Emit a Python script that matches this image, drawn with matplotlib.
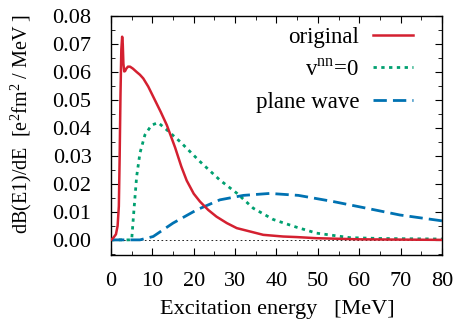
import matplotlib
matplotlib.use("Agg")
import matplotlib.pyplot as plt
from matplotlib.ticker import MultipleLocator, FormatStrFormatter

plt.rcParams['font.family'] = ['Liberation Serif', 'DejaVu Serif']
plt.rcParams['mathtext.fontset'] = 'custom'
plt.rcParams['mathtext.rm'] = 'Liberation Serif'

# original
e_orig = [0.0, 0.6, 1.2, 1.6, 1.9, 2.1, 2.3, 2.5, 2.7, 2.85, 3.0, 3.2, 3.4, 3.7, 4.1, 4.6, 5.3, 6.2,
          7.0, 7.8, 9.0, 10.6, 12.0, 13.5, 15.5, 17.0, 18.3, 20.0, 21.5, 23.5, 25.5, 28.0, 30.4,
          33.6, 36.8, 41.6, 44.9, 49.7, 60.0, 70.0, 80.0]
v_orig = [0.0, 0.0008, 0.002, 0.005, 0.012, 0.03, 0.052, 0.068, 0.0726, 0.070, 0.063, 0.0602,
          0.0603, 0.0612, 0.0619, 0.0619, 0.0612, 0.060, 0.059, 0.0577, 0.0548, 0.050, 0.0458,
          0.0410, 0.0330, 0.0262, 0.0212, 0.0165, 0.0137, 0.0107, 0.0083, 0.006, 0.0042, 0.003,
          0.0018, 0.0012, 0.001, 0.0006, 0.0002, 0.0001, 0.0]

# v^nn = 0
e_vnn = [0.0, 5.0, 5.55, 6.2, 7.0, 8.2, 9.8, 11.4, 13.5, 16.7, 21.5, 26.3, 30.4, 34.4, 39.2,
         40.8, 44.9, 49.7, 57.7, 65.0, 72.0, 80.0]
v_vnn = [0.0, 0.0, 0.0107, 0.0226, 0.031, 0.0375, 0.041, 0.0419, 0.0393, 0.0351, 0.028, 0.0214,
         0.0167, 0.0113, 0.0073, 0.0065, 0.0045, 0.0024, 0.0008, 0.0005, 0.0004, 0.0003]

# plane wave
e_pw = [0.0, 7.0, 10.2, 15.0, 20.7, 26.3, 32.0, 38.4, 45.3, 53.7, 61.8, 69.8, 80.0]
v_pw = [0.0, 0.0, 0.0012, 0.006, 0.0107, 0.0143, 0.0159, 0.0166, 0.0159, 0.0137, 0.0113,
        0.0089, 0.0068]

fig = plt.figure(figsize=(4.63, 3.24), dpi=100)
ax = fig.add_axes([0.2397, 0.213, 0.7149, 0.7376])

ax.axhline(0.0, color='black', lw=0.6, ls=(0, (2, 3)), zorder=1)
ax.plot(e_orig, v_orig, color='#d42030', lw=1.8, label='original', zorder=3)
ax.plot(e_vnn, v_vnn, color='#00a070', lw=2.0, ls=(0, (1.2, 1.6)), label=r'v$^{\rm nn}$=0', zorder=2)
ax.plot(e_pw, v_pw, color='#0072b2', lw=2.0, ls=(0, (4.8, 2.2)), label='plane wave', zorder=2)

ax.set_xlim(0, 80)
ax.set_ylim(-0.0054, 0.08)
ax.xaxis.set_major_locator(MultipleLocator(10))
ax.xaxis.set_minor_locator(MultipleLocator(5))
ax.yaxis.set_major_locator(MultipleLocator(0.01))
ax.yaxis.set_minor_locator(MultipleLocator(0.005))
ax.yaxis.set_major_formatter(FormatStrFormatter('%.2f'))
ax.tick_params(which='both', direction='in', top=True, right=True, labelsize=16)
ax.tick_params(axis='y', pad=14)
ax.tick_params(axis='x', pad=12)
ax.tick_params(which='major', length=5)
ax.tick_params(which='minor', length=3)
for s in ax.spines.values():
    s.set_linewidth(1.0)

ax.set_xlabel('Excitation energy   [MeV]', fontsize=16)
ax.set_ylabel(r'dB(E1)/dE  [e$^2$fm$^2$ / MeV ]', fontsize=14.5)
ax.xaxis.set_label_coords(0.503, -0.188)
ax.yaxis.set_label_coords(-0.234, 0.55)

leg = ax.legend(loc='upper right', frameon=False, markerfirst=False, fontsize=16.5,
                handlelength=1.75, labelspacing=0.48, handletextpad=0.6,
                bbox_to_anchor=(0.975, 1.04))

fig.savefig('out.png', dpi=100)
